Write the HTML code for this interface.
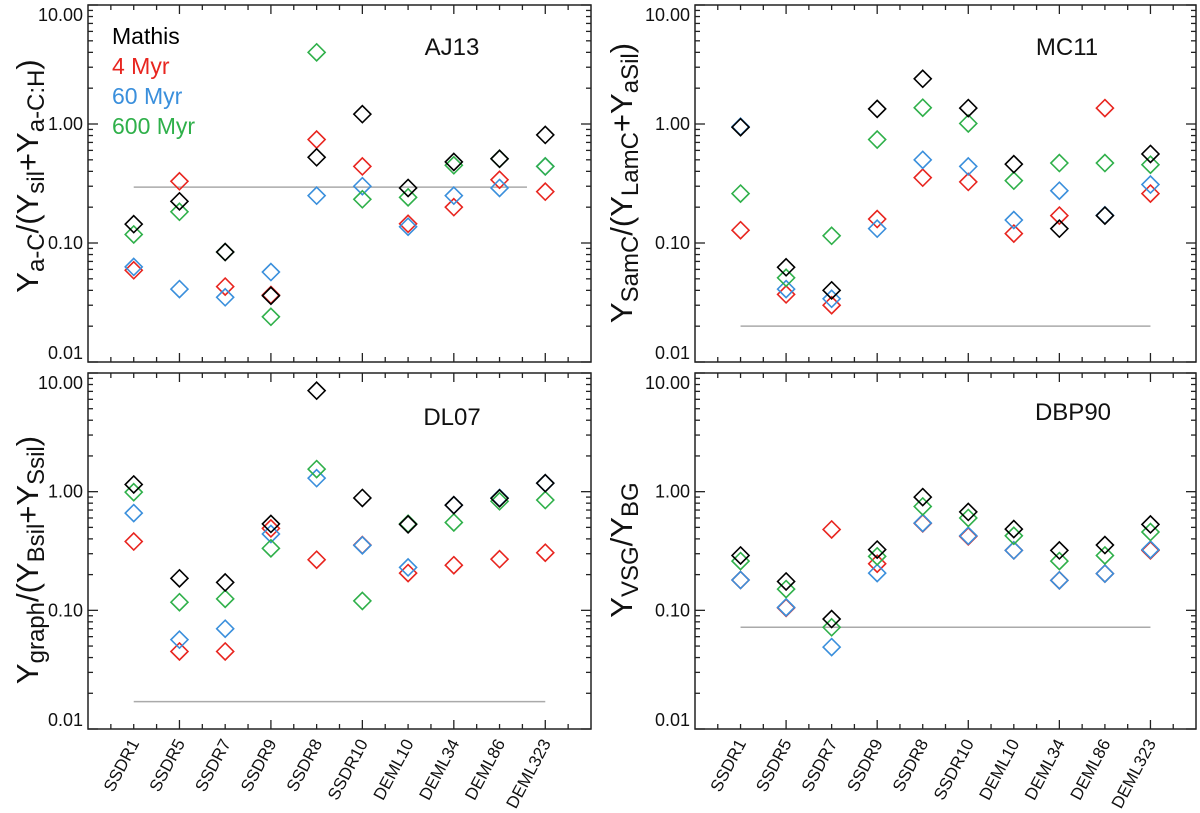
<!DOCTYPE html>
<html><head><meta charset="utf-8"><style>
body{margin:0;background:#fff;}
svg{display:block;font-family:"Liberation Sans",sans-serif;}
</style></head><body>
<svg id="fig" width="1200" height="813" viewBox="0 0 1200 813"></svg>
<script>
const categories=["SSDR1","SSDR5","SSDR7","SSDR9","SSDR8","SSDR10","DEML10","DEML34","DEML86","DEML323"];
const tickValues=[0.01,0.1,1,10];
const tickLabels=["0.01","0.10","1.00","10.00"];
const seriesNames=["Mathis","4 Myr","60 Myr","600 Myr"];
const aj13Mathis=[0.144,0.224,0.084,0.036,0.525,1.21,0.29,0.48,0.51,0.81];
const aj13Red=[0.059,0.33,0.043,0.0366,0.74,0.44,0.145,0.20,0.34,0.27];
const aj13Blue=[0.063,0.041,0.035,0.057,0.25,0.30,0.137,0.25,0.29,0.44];
const aj13Green=[0.118,0.183,0.084,0.024,4.0,0.233,0.242,0.45,0.51,0.44];
const mc11Mathis=[0.94,0.0625,0.040,1.34,2.4,1.36,0.46,0.132,0.17,0.56];
const mc11Red=[0.128,0.037,0.030,0.159,0.354,0.326,0.12,0.17,1.36,0.26];
const mc11Blue=[0.95,0.041,0.034,0.132,0.50,0.44,0.156,0.275,0.171,0.31];
const mc11Green=[0.26,0.051,0.115,0.74,1.37,1.01,0.334,0.47,0.47,0.455];
const dl07Mathis=[1.15,0.186,0.172,0.535,7.1,0.885,0.53,0.77,0.88,1.18];
const dl07Red=[0.38,0.045,0.045,0.49,0.267,0.355,0.206,0.24,0.27,0.306];
const dl07Blue=[0.66,0.0566,0.070,0.44,1.30,0.353,0.23,0.77,0.885,1.18];
const dl07Green=[0.99,0.117,0.125,0.333,1.55,0.12,0.537,0.55,0.83,0.85];
const dbpMathis=[0.29,0.175,0.0845,0.325,0.90,0.675,0.484,0.32,0.355,0.53];
const dbpRed=[0.18,0.105,0.48,0.247,0.54,0.42,0.32,0.179,0.204,0.32];
const dbpBlue=[0.18,0.106,0.049,0.206,0.545,0.425,0.32,0.179,0.204,0.325];
const dbpGreen=[0.26,0.151,0.072,0.285,0.75,0.60,0.425,0.26,0.29,0.457];
const refLevels=[0.295,0.02,0.017,0.072];

const NS="http://www.w3.org/2000/svg";
const svg=document.getElementById('fig');
function mk(tag,attrs,parent){const e=document.createElementNS(NS,tag);for(const k in attrs)e.setAttribute(k,attrs[k]);(parent||svg).appendChild(e);return e;}
const colors={black:"#000",red:"#e8251f",blue:"#3a8fdc",green:"#2fb04a"};

const panels=[
 {name:"aj13",x0:88,x1:591,y0:5,y1:362,label:"AJ13",lx:452,ly:55,ref:refLevels[0],refEnd:9.6,data:[aj13Red,aj13Blue,aj13Green,aj13Mathis],title:[["Y",""],["a-C","sub"],["/(Y",""],["sil","sub"],["+Y",""],["a-C:H","sub"],[")",""]],tx:38,ty:176,xlabels:false},
 {name:"mc11",x0:695,x1:1196,y0:5,y1:362,label:"MC11",lx:1067,ly:55,ref:refLevels[1],refEnd:10,data:[mc11Red,mc11Blue,mc11Green,mc11Mathis],title:[["Y",""],["SamC","sub"],["/(Y",""],["LamC","sub"],["+Y",""],["aSil","sub"],[")",""]],tx:632,ty:183,xlabels:false},
 {name:"dl07",x0:88,x1:591,y0:373,y1:729,label:"DL07",lx:452,ly:425,ref:refLevels[2],refEnd:10,data:[dl07Red,dl07Blue,dl07Green,dl07Mathis],title:[["Y",""],["graph","sub"],["/(Y",""],["Bsil","sub"],["+Y",""],["Ssil","sub"],[")",""]],tx:38,ty:560,xlabels:true},
 {name:"dbp90",x0:695,x1:1196,y0:373,y1:729,label:"DBP90",lx:1073,ly:420,ref:refLevels[3],refEnd:10,data:[dbpRed,dbpBlue,dbpGreen,dbpMathis],title:[["Y",""],["VSG","sub"],["/Y",""],["BG","sub"]],tx:632,ty:550,xlabels:true}
];
const order=[colors.red,colors.blue,colors.green,colors.black];
const seriesKeys=["4-myr","60-myr","600-myr","mathis"];

panels.forEach(p=>{
 const g=mk('g',{});
 
 
 const xs=i=>p.x0+i*(p.x1-p.x0)/11;
 const ys=v=>p.y0+(1-Math.log10(v))*(p.y1-p.y0)/3;
 const fr=mk('rect',{x:p.x0,y:p.y0,width:p.x1-p.x0,height:p.y1-p.y0,fill:'none',stroke:'#222','stroke-width':1.5},g);
 
 
 for(let k=1;k<22;k++){
  const x=p.x0+k*(p.x1-p.x0)/22;
  const len=(k%4===0)?9:5;
  mk('line',{x1:x,x2:x,y1:p.y1,y2:p.y1-len,stroke:'#222','stroke-width':1.3},g);
  mk('line',{x1:x,x2:x,y1:p.y0,y2:p.y0+len,stroke:'#222','stroke-width':1.3},g);
 }
 for(let d=-2;d<=1;d++){
  for(let m=1;m<=9;m++){
   const v=m*Math.pow(10,d);
   if(v>10.0001||v<0.00999)continue;
   const y=ys(v);const len=m===1?10:5;
   mk('line',{x1:p.x0,x2:p.x0+len,y1:y,y2:y,stroke:'#222','stroke-width':1.3},g);
   mk('line',{x1:p.x1,x2:p.x1-len,y1:y,y2:y,stroke:'#222','stroke-width':1.3},g);
  }
 }
 tickValues.forEach((v,i)=>{
  let yc=ys(v);
  yc=Math.max(p.y0+10,Math.min(p.y1-9,yc));
  const t=mk('text',{x:p.x0-5,y:yc+6,'text-anchor':'end','font-size':18,fill:'#111'},g);
  t.textContent=tickLabels[i];
  
  
 });
 const rl=mk('line',{x1:xs(1),x2:xs(p.refEnd),y1:ys(p.ref),y2:ys(p.ref),stroke:'#aaa','stroke-width':1.5},g);
 
 
 p.data.forEach((arr,si)=>{
  const sg=mk('g',{},g);
  
  
  arr.forEach((v,i)=>{
   const cx=xs(i+1),cy=ys(v),r=8.5;
   const d=mk('polygon',{points:`${cx},${cy-r} ${cx+r},${cy} ${cx},${cy+r} ${cx-r},${cy}`,fill:'none',stroke:order[si],'stroke-width':1.6},sg);
   
   
  });
 });
 const lb=mk('text',{x:p.lx,y:p.ly,'text-anchor':'middle','font-size':24,fill:'#111'},g);
 lb.textContent=p.label;
 
 
 const tt=mk('text',{x:p.tx,y:p.ty,'text-anchor':'middle','font-size':31,fill:'#111',transform:`rotate(-90 ${p.tx} ${p.ty})`},g);
 
 
 p.title.forEach(([s,k])=>{
  const ts=mk('tspan',k==='sub'?{'baseline-shift':'-25%','font-size':24}:{},tt);
  ts.textContent=s;
 });
 if(p.xlabels){
  categories.forEach((c,i)=>{
   const x=xs(i+1)+6,y=p.y1+14;
   const t=mk('text',{x:x,y:y,'text-anchor':'end','font-size':17,fill:'#111',transform:`rotate(-62 ${x} ${y})`},g);
   t.textContent=c;
   
   
  });
 }
});
const leg=mk('g',{});


const legColors=[colors.black,colors.red,colors.blue,colors.green];
seriesNames.forEach((n,i)=>{
 const t=mk('text',{x:112,y:44+i*30,'font-size':23,fill:legColors[i]},leg);
 t.textContent=n;
 
 
});
</script>
</body></html>
